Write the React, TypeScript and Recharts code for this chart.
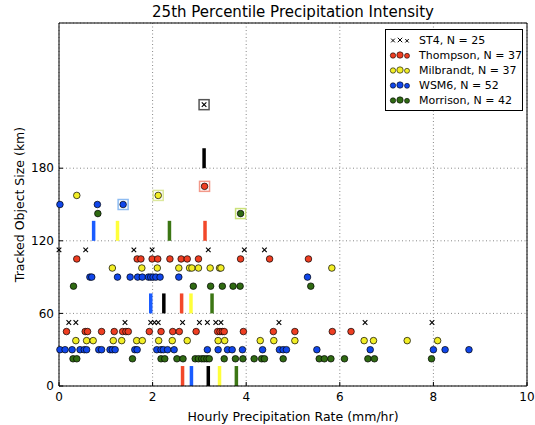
import {
  ScatterChart,
  Scatter,
  XAxis,
  YAxis,
  CartesianGrid,
  ReferenceLine,
} from 'recharts';

// Hourly rate (mm/hr) of each tracked object, split by size row.
const st4Low = [0.21, 0.36, 1.41, 1.96, 2.04, 2.12, 2.64, 3.0, 3.17, 3.35, 3.46, 4.7, 6.54, 7.97];
const st4Mid = [0.0, 0.57, 1.6, 1.99, 3.19, 3.96, 4.39];
const st4High = [3.1];

const thompsonLow = [
  0.16, 0.56, 0.61, 0.91, 1.18, 1.36, 1.43, 1.48, 1.93, 2.18, 2.43, 2.57, 2.93, 3.39, 3.44,
  3.49, 3.53, 3.94, 4.58, 5.04, 5.84, 6.24,
];
const thompsonMid = [0.38, 1.67, 1.75, 1.99, 2.11, 2.37, 2.61, 2.74, 2.98, 3.88, 4.5, 5.33];
const thompsonHigh = [3.11];

const milbrandtLow = [
  0.36, 0.59, 0.73, 1.16, 1.34, 1.66, 1.78, 2.13, 2.42, 2.74, 3.4, 3.54, 4.3, 4.59, 5.04, 6.52,
  6.72, 7.44, 8.09,
];
const milbrandtMid = [1.14, 1.77, 2.1, 2.56, 2.79, 2.84, 2.98, 3.23, 3.43, 3.46, 5.83];
const milbrandtHigh = [0.38, 2.12];

const wsm6Low = [
  0.02, 0.13, 0.28, 0.45, 0.54, 0.59, 0.85, 0.91, 1.09, 1.14, 1.2, 1.62, 1.67, 2.09, 2.18, 2.23,
  2.32, 2.46, 3.17, 3.4, 3.6, 3.7, 3.92, 4.35, 4.71, 4.79, 4.86, 5.51, 6.65, 8.0, 8.25, 8.76,
];
const wsm6Mid = [0.66, 0.7, 1.25, 1.52, 1.68, 1.78, 1.91, 1.96, 2.01, 2.07, 2.16, 2.56, 5.31];
const wsm6High = [0.02, 0.82, 1.37];

const morrisonLow = [
  0.3, 0.38, 1.57, 2.18, 2.26, 2.52, 2.65, 2.91, 2.98, 3.05, 3.1, 3.16, 3.21, 3.53, 3.77, 3.93,
  4.17, 4.33, 4.39, 4.79, 5.56, 5.67, 5.81, 6.1, 6.6, 6.74, 7.96,
];
const morrisonMid = [0.31, 2.87, 3.24, 3.49, 3.72, 3.87, 5.38];
const morrisonHigh = [0.83, 3.88];

// Size (km) each row is plotted at: [low, mid, high]
const st4Sizes = [52.5, 112.5, 232.5];
const thompsonSizes = [45, 105, 165];
const milbrandtSizes = [37.5, 97.5, 157.5];
const wsm6Sizes = [30, 90, 150];
const morrisonSizes = [22.5, 82.5, 142.5];

// Highlighted (boxed) object per model: [rate, size]
const st4Pick = [3.1, 232.5];
const thompsonPick = [3.11, 165];
const milbrandtPick = [2.12, 157.5];
const wsm6Pick = [1.37, 150];
const morrisonPick = [3.88, 142.5];

// 25th percentile markers: rate per size class, and the class base size
const st4Bars = [3.19, 2.24, 3.1];
const st4BarBase = [0, 60, 180];
const thompsonBars = [2.64, 2.62, 3.12];
const milbrandtBars = [3.43, 2.82, 1.25];
const wsm6Bars = [2.83, 1.96, 0.74];
const morrisonBars = [3.79, 3.27, 2.36];
const barBase = [0, 60, 120];
const BAR_LEN = 16.5;

const xTicks = [0, 2, 4, 6, 8, 10];
const yTicks = [0, 60, 120, 180];

const FONT = '"DejaVu Sans", sans-serif';

const COLORS = {
  st4: '#000000',
  thompson: '#ee3e22',
  milbrandt: '#f2ee26',
  wsm6: '#1046ea',
  morrison: '#2f6a12',
};
const BAR_COLORS = {
  st4: '#000000',
  thompson: '#f2482a',
  milbrandt: '#ffff3a',
  wsm6: '#1a5cff',
  morrison: '#3c7614',
};
const BOX_COLORS = {
  st4: '#555555',
  thompson: '#f3998a',
  milbrandt: '#dce89c',
  wsm6: '#8ebcf2',
  morrison: '#cbe27a',
};

const rows = (lists: number[][], sizes: number[]) =>
  lists.flatMap((xs, i) => xs.map((x) => ({ x, y: sizes[i] })));

const dotShape = (color: string) => (props: any) =>
  <circle cx={props.cx} cy={props.cy} r={3.3} fill={color} stroke="#000" strokeWidth={0.7} />;

const crossShape = (props: any) => {
  const { cx, cy } = props;
  const s = 2.3;
  return (
    <g stroke="#000" strokeWidth={1.1}>
      <line x1={cx - s} y1={cy - s} x2={cx + s} y2={cy + s} />
      <line x1={cx - s} y1={cy + s} x2={cx + s} y2={cy - s} />
    </g>
  );
};

const boxShape = (color: string) => (props: any) =>
  <rect x={props.cx - 5} y={props.cy - 5} width={10} height={10} fill="none" stroke={color} strokeWidth={1.5} />;

const models = [
  { key: 'st4', label: 'ST4, N = 25', rows: [st4Low, st4Mid, st4High], sizes: st4Sizes, pick: st4Pick },
  { key: 'thompson', label: 'Thompson, N = 37', rows: [thompsonLow, thompsonMid, thompsonHigh], sizes: thompsonSizes, pick: thompsonPick },
  { key: 'milbrandt', label: 'Milbrandt, N = 37', rows: [milbrandtLow, milbrandtMid, milbrandtHigh], sizes: milbrandtSizes, pick: milbrandtPick },
  { key: 'wsm6', label: 'WSM6, N = 52', rows: [wsm6Low, wsm6Mid, wsm6High], sizes: wsm6Sizes, pick: wsm6Pick },
  { key: 'morrison', label: 'Morrison, N = 42', rows: [morrisonLow, morrisonMid, morrisonHigh], sizes: morrisonSizes, pick: morrisonPick },
] as const;

const bars = [
  { key: 'thompson', xs: thompsonBars, bases: barBase },
  { key: 'wsm6', xs: wsm6Bars, bases: barBase },
  { key: 'st4', xs: st4Bars, bases: st4BarBase },
  { key: 'milbrandt', xs: milbrandtBars, bases: barBase },
  { key: 'morrison', xs: morrisonBars, bases: barBase },
] as const;

const LegendMarks = ({ k }: { k: string }) => (
  <svg width={24} height={12} style={{ display: 'block' }}>
    {[
      [4, 6.5, 2.7],
      [11, 6, 3.2],
      [18, 6.8, 2.5],
    ].map(([cx, cy, r], i) =>
      k === 'st4' ? (
        <g key={i} stroke="#000" strokeWidth={1}>
          <line x1={cx - r * 0.7} y1={cy - r * 0.7} x2={cx + r * 0.7} y2={cy + r * 0.7} />
          <line x1={cx - r * 0.7} y1={cy + r * 0.7} x2={cx + r * 0.7} y2={cy - r * 0.7} />
        </g>
      ) : (
        <circle key={i} cx={cx} cy={cy} r={r} fill={(COLORS as any)[k]} stroke="#000" strokeWidth={0.6} />
      ),
    )}
  </svg>
);

const ModelLegend = () => (
  <div
    style={{
      position: 'absolute',
      left: 385,
      top: 29,
      width: 136,
      height: 80,
      border: '1px solid #000',
      background: '#fff',
      fontFamily: FONT,
      fontSize: 11,
    }}
  >
    {models.map((m, i) => (
      <div
        key={m.key}
        style={{ position: 'absolute', left: 3, top: 3 + i * 15, height: 14, display: 'flex', alignItems: 'center' }}
      >
        <LegendMarks k={m.key} />
        <span style={{ marginLeft: 6, whiteSpace: 'nowrap' }}>{m.label}</span>
      </div>
    ))}
  </div>
);

const App = () => {
  const tickStyle = { fill: '#000', fontSize: 12, fontFamily: FONT };
  return (
    <div style={{ position: 'absolute', left: 0, top: 0, width: 535, height: 425, background: '#fff' }}>
      <div
        style={{
          position: 'absolute',
          left: 59,
          width: 468,
          top: 3,
          textAlign: 'center',
          fontFamily: FONT,
          fontSize: 15,
        }}
      >
        25th Percentile Precipitation Intensity
      </div>
      <ScatterChart width={535} height={425} margin={{ top: 23, right: 8, bottom: 0, left: 0 }}>
        <CartesianGrid stroke="#888" strokeDasharray="1 2.5" />
        <XAxis
          type="number"
          dataKey="x"
          domain={[0, 10]}
          ticks={xTicks}
          interval={0}
          height={39}
          tick={tickStyle}
          tickSize={-4}
          tickMargin={10}
          tickLine={{ stroke: '#000' }}
          axisLine={{ stroke: '#000' }}
          label={{
            value: 'Hourly Precipitation Rate (mm/hr)',
            position: 'insideBottom',
            offset: 4,
            style: { fill: '#000', fontSize: 12.5, fontFamily: FONT },
          }}
        />
        <YAxis
          type="number"
          dataKey="y"
          domain={[0, 300]}
          ticks={yTicks}
          interval={0}
          width={59}
          tick={tickStyle}
          tickSize={-4}
          tickMargin={9}
          tickLine={{ stroke: '#000' }}
          axisLine={{ stroke: '#000' }}
          label={{
            value: 'Tracked Object Size (km)',
            angle: -90,
            position: 'insideLeft',
            offset: 20,
            style: { fill: '#000', fontSize: 12.5, fontFamily: FONT, textAnchor: 'middle' },
          }}
        />
        <ReferenceLine y={300} stroke="#000" />
        <ReferenceLine x={10} stroke="#000" />
        {bars.flatMap((b) =>
          b.xs.map((x, i) => (
            <ReferenceLine
              key={`${b.key}-bar-${i}`}
              segment={[
                { x, y: b.bases[i] },
                { x, y: b.bases[i] + BAR_LEN },
              ]}
              stroke={(BAR_COLORS as any)[b.key]}
              strokeWidth={3.5}
            />
          )),
        )}
        {models.map((m) => (
          <Scatter
            key={m.key}
            name={m.label}
            data={rows(m.rows as unknown as number[][], m.sizes as unknown as number[])}
            shape={m.key === 'st4' ? crossShape : dotShape((COLORS as any)[m.key])}
            isAnimationActive={false}
          />
        ))}
        {models.map((m) => (
          <Scatter
            key={`${m.key}-pick`}
            data={[{ x: m.pick[0], y: m.pick[1] }]}
            shape={boxShape((BOX_COLORS as any)[m.key])}
            isAnimationActive={false}
          />
        ))}
      </ScatterChart>
      <ModelLegend />
    </div>
  );
};

export default App;
